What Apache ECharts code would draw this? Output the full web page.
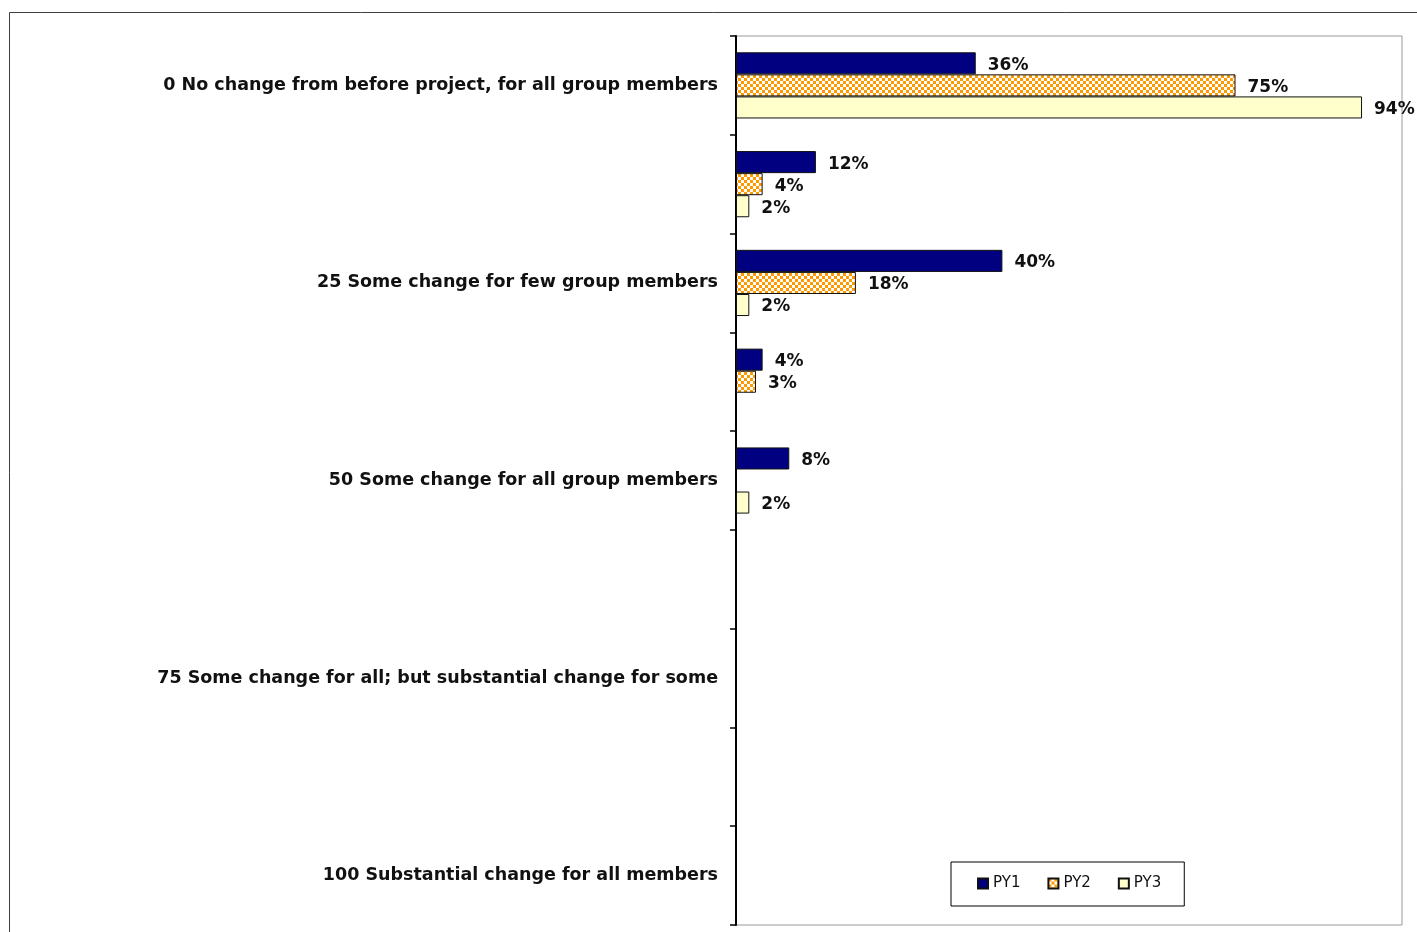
<!DOCTYPE html>
<html>
<head>
<meta charset="utf-8">
<script src="https://cdn.jsdelivr.net/npm/echarts@6/dist/echarts.min.js"></script>
<style>
  html, body { margin: 0; padding: 0; background: #fff; }
  #chart { width: 1417px; height: 932px; }
</style>
</head>
<body>
<div id="chart"></div>
<script>
// Response categories, top to bottom (unlabelled rows sit between the scale points)
const categories = [
  '0 No change from before project, for all group members',
  '',
  '25 Some change for few group members',
  '',
  '50 Some change for all group members',
  '',
  '75 Some change for all; but substantial change for some',
  '',
  '100 Substantial change for all members'
];

// Share of respondents (%) per programme year; null = no response in that row
const seriesNames = ['PY1', 'PY2', 'PY3'];
const py1 = [36, 12, 40, 4, 8, null, null, null, null];
const py2 = [75, 4, 18, 3, null, null, null, null, null];
const py3 = [94, 2, 2, null, 2, null, null, null, null];

// Orange/white checkerboard fill for PY2
function checkerPattern() {
  const c = document.createElement('canvas');
  c.width = 6; c.height = 6;
  const g = c.getContext('2d');
  g.fillStyle = '#ffffff';
  g.fillRect(0, 0, 6, 6);
  g.fillStyle = '#ff9900';
  g.fillRect(0, 0, 3, 3);
  g.fillRect(3, 3, 3, 3);
  return { image: c, repeat: 'repeat' };
}

const FONT = '"DejaVu Sans", sans-serif';

const chart = echarts.init(document.getElementById('chart'), null, { renderer: 'canvas' });

function barSeries(name, data, fill) {
  return {
    name: name,
    type: 'bar',
    data: data,
    barGap: '0%',
    barCategoryGap: '33%',
    itemStyle: { color: fill, borderColor: '#111', borderWidth: 1 },
    label: {
      show: true,
      position: 'right',
      distance: 12,
      offset: [0, 2],
      formatter: '{c}%',
      color: '#111',
      fontFamily: FONT,
      fontWeight: 'bold',
      fontSize: 17
    },
    emphasis: { disabled: true },
    animation: false
  };
}

chart.setOption({
  animation: false,
  backgroundColor: '#ffffff',
  grid: {
    left: 736, top: 36, right: 15, bottom: 7,
    show: true,
    borderColor: '#9a9a9a',
    borderWidth: 1,
    containLabel: false
  },
  xAxis: {
    type: 'value',
    min: 0,
    max: 100,
    show: false
  },
  yAxis: {
    type: 'category',
    data: categories,
    inverse: true,
    axisLine: { show: true, lineStyle: { color: '#000', width: 2 } },
    axisTick: { show: true, length: 6, lineStyle: { color: '#000', width: 1.5 } },
    axisLabel: {
      margin: 18,
      color: '#111',
      fontFamily: FONT,
      fontWeight: 'bold',
      fontSize: 17.5,
      interval: 0
    },
    splitLine: { show: false }
  },
  legend: {
    data: seriesNames,
    left: 951,
    top: 862,
    orient: 'horizontal',
    padding: [14, 23, 15, 26],
    itemGap: 27,
    itemWidth: 10,
    itemHeight: 10,
    icon: 'rect',
    borderColor: '#000',
    borderWidth: 1,
    backgroundColor: '#fff',
    textStyle: { fontFamily: FONT, fontSize: 15, color: '#111' }
  },
  graphic: [{
    type: 'rect',
    silent: true,
    z: -1,
    shape: { x: 9.5, y: 12.5, width: 1500, height: 1000 },
    style: { fill: null, stroke: '#404040', lineWidth: 1 }
  }],
  series: [
    barSeries('PY1', py1, '#000080'),
    barSeries('PY2', py2, checkerPattern()),
    barSeries('PY3', py3, '#ffffcc')
  ]
});
</script>
</body>
</html>
